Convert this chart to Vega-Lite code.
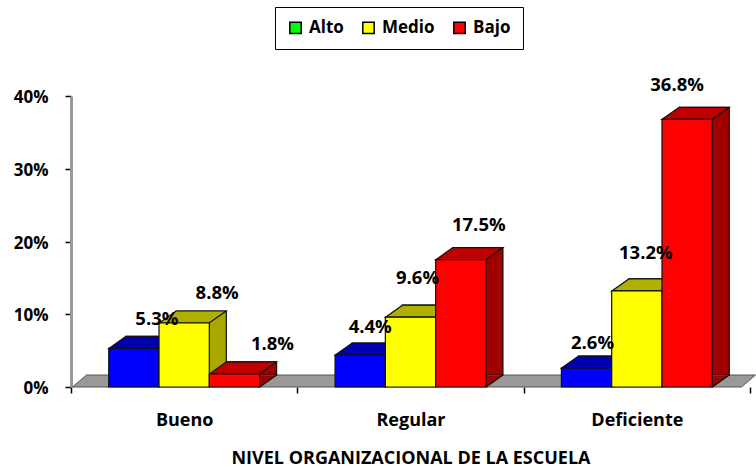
{
"$schema":"https://vega.github.io/schema/vega-lite/v6.json",
"autosize":"none","width":679,"height":291,
"padding":{"left":71,"top":96,"right":6,"bottom":80},
"background":"white",
"config":{"view":{"stroke":null},"font":"Open Sans","text":{"font":"Open Sans"}},
"data":{"values":[
{"nivel":"Bueno","grupo":"Alto","pct":0.053},
{"nivel":"Bueno","grupo":"Medio","pct":0.088},
{"nivel":"Bueno","grupo":"Bajo","pct":0.018},
{"nivel":"Regular","grupo":"Alto","pct":0.044},
{"nivel":"Regular","grupo":"Medio","pct":0.096},
{"nivel":"Regular","grupo":"Bajo","pct":0.175},
{"nivel":"Deficiente","grupo":"Alto","pct":0.026},
{"nivel":"Deficiente","grupo":"Medio","pct":0.132},
{"nivel":"Deficiente","grupo":"Bajo","pct":0.368}
]},
"encoding":{
"x":{"field":"nivel","type":"nominal","sort":["Bueno","Regular","Deficiente"],
"scale":{"paddingInner":0,"paddingOuter":0},
"axis":{"title":"NIVEL ORGANIZACIONAL DE LA ESCUELA","titleFont":"Open Sans","titleFontSize":18,"titleFontWeight":"bold","titleColor":"black","titlePadding":20,
"labelFont":"Open Sans","labelFontSize":18,"labelFontWeight":"bold","labelColor":"black","labelAngle":0,"labelPadding":18,
"domain":false,"tickBand":"extent","tickColor":"black","tickWidth":1.5,"tickSize":6,"grid":false}},
"xOffset":{"field":"grupo","type":"nominal","scale":{"type":"band","domain":["Alto","Medio","Bajo"],"paddingInner":0,"paddingOuter":0.75,"range":[0,226.33]}},
"y":{"field":"pct","type":"quantitative","scale":{"domain":[0,0.4]},
"axis":{"title":null,"format":".0%","values":[0,0.1,0.2,0.3,0.4],"grid":false,"labelFont":"Open Sans","labelFontSize":17,"labelFontWeight":"bold","labelColor":"black","labelPadding":17,"labelOffset":1.5,
"domainColor":"#999999","domainWidth":3,"tickColor":"black","tickWidth":1.5,"tickSize":6}}
},
"layer":[
{"transform":[{"filter":"datum.nivel==='Regular' && datum.grupo==='Medio'"}],
 "mark":{"type":"point","filled":true,"size":4,"opacity":1,"fill":"#999999","stroke":"#555555","strokeWidth":1,
  "shape":"M-338,0 L-324,-12 L345,-12 L331,0 Z"},
 "encoding":{"y":{"datum":0}}},
{"mark":{"type":"point","filled":true,"size":0,"opacity":1},
 "encoding":{"color":{"field":"grupo","type":"nominal","sort":["Alto","Medio","Bajo"],
  "scale":{"domain":["Alto","Medio","Bajo"],"range":["#00ff00","#ffff00","#ff0000"]},
  "legend":{"title":null,"orient":"none","legendX":204,"legendY":-89,"direction":"horizontal","strokeColor":"black","fillColor":"white","padding":12,
   "symbolType":"square","symbolSize":130,"symbolStrokeColor":"black","symbolStrokeWidth":1.5,"symbolOpacity":1,"labelFont":"Open Sans","labelFontSize":17,"labelFontWeight":"bold","labelColor":"black","columnPadding":15,"labelOffset":5}}}},
{"mark":{"type":"bar","yOffset":-12,"y2Offset":-12,"stroke":"#111111","strokeWidth":1.2},
 "encoding":{"xOffset":{"field":"grupo","type":"nominal","scale":{"type":"band","domain":["Alto","Medio","Bajo"],"paddingInner":0,"paddingOuter":0.75,"range":[17,243.33]}},
 "fill":{"field":"grupo","type":"nominal","legend":null,"scale":{"domain":["Alto","Medio","Bajo"],"range":["#000099","#a8a800","#a00000"]}}}},
{"mark":{"type":"point","filled":true,"size":4,"opacity":1,"shape":"M25,1 L43,-12 L43,-11 L25,-11 Z"},
 "encoding":{"y":{"datum":0},"fill":{"field":"grupo","type":"nominal","legend":null,"scale":{"domain":["Alto","Medio","Bajo"],"range":["#000099","#a8a800","#a00000"]}}}},
{"mark":{"type":"point","filled":false,"size":4,"opacity":1,"stroke":"#111111","strokeWidth":1.2,"shape":"M25,0 L42,-12"},
 "encoding":{"y":{"datum":0}}},
{"mark":{"type":"point","filled":true,"size":4,"opacity":1,"stroke":"#111111","strokeWidth":1.2,"shape":"M-25,0 L-8,-12 L42,-12 L25,0 Z"},
 "encoding":{"fill":{"field":"grupo","type":"nominal","legend":null,"scale":{"domain":["Alto","Medio","Bajo"],"range":["#0000b0","#b0b000","#c00000"]}}}},
{"mark":{"type":"bar","stroke":"#111111","strokeWidth":1.2},
 "encoding":{"fill":{"field":"grupo","type":"nominal","legend":null,"scale":{"domain":["Alto","Medio","Bajo"],"range":["#0000ff","#ffff00","#ff0000"]}}}},
{"transform":[{"filter":"datum.nivel==='Bueno' && datum.grupo==='Alto'"}],"mark":{"type":"text","dx":23,"dy":-29,"fontSize":18.5,"fontWeight":"bold","color":"black"},"encoding":{"text":{"field":"pct","format":".1%"}}},
{"transform":[{"filter":"datum.nivel==='Bueno' && datum.grupo==='Medio'"}],"mark":{"type":"text","dx":33,"dy":-30,"fontSize":18.5,"fontWeight":"bold","color":"black"},"encoding":{"text":{"field":"pct","format":".1%"}}},
{"transform":[{"filter":"datum.nivel==='Bueno' && datum.grupo==='Bajo'"}],"mark":{"type":"text","dx":38,"dy":-30,"fontSize":18.5,"fontWeight":"bold","color":"black"},"encoding":{"text":{"field":"pct","format":".1%"}}},
{"transform":[{"filter":"datum.nivel==='Regular' && datum.grupo==='Alto'"}],"mark":{"type":"text","dx":10,"dy":-28,"fontSize":18.5,"fontWeight":"bold","color":"black"},"encoding":{"text":{"field":"pct","format":".1%"}}},
{"transform":[{"filter":"datum.nivel==='Regular' && datum.grupo==='Medio'"}],"mark":{"type":"text","dx":7,"dy":-39,"fontSize":18.5,"fontWeight":"bold","color":"black"},"encoding":{"text":{"field":"pct","format":".1%"}}},
{"transform":[{"filter":"datum.nivel==='Regular' && datum.grupo==='Bajo'"}],"mark":{"type":"text","dx":18,"dy":-35,"fontSize":18.5,"fontWeight":"bold","color":"black"},"encoding":{"text":{"field":"pct","format":".1%"}}},
{"transform":[{"filter":"datum.nivel==='Deficiente' && datum.grupo==='Alto'"}],"mark":{"type":"text","dx":6,"dy":-25,"fontSize":18.5,"fontWeight":"bold","color":"black"},"encoding":{"text":{"field":"pct","format":".1%"}}},
{"transform":[{"filter":"datum.nivel==='Deficiente' && datum.grupo==='Medio'"}],"mark":{"type":"text","dx":9,"dy":-38,"fontSize":18.5,"fontWeight":"bold","color":"black"},"encoding":{"text":{"field":"pct","format":".1%"}}},
{"transform":[{"filter":"datum.nivel==='Deficiente' && datum.grupo==='Bajo'"}],"mark":{"type":"text","dx":-10,"dy":-34,"fontSize":18.5,"fontWeight":"bold","color":"black"},"encoding":{"text":{"field":"pct","format":".1%"}}}
],
"resolve":{"scale":{"fill":"independent","xOffset":"independent"}}
}
